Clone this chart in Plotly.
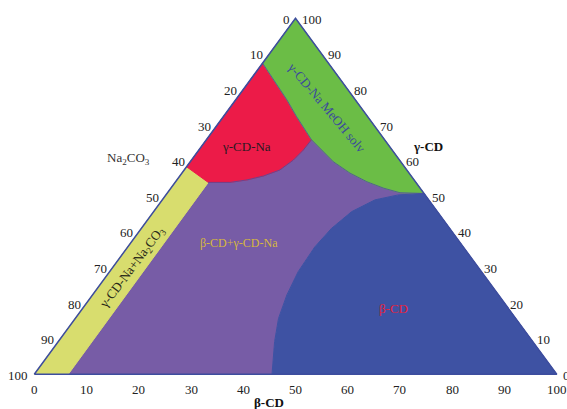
import plotly.graph_objects as go

# ---------------- data (compositions in %, Na2CO3 = 100 - beta - gamma) ----------------
tick_values = [0, 10, 20, 30, 40, 50, 60, 70, 80, 90, 100]

# gamma-CD-Na + Na2CO3 region
yellow_beta = [0, 6.5, 6.35, 0]
yellow_gamma = [0, 0, 53.9, 58.3]

# left edge segment of gamma-CD-Na region
red_edge_beta = [0, 0]
red_edge_gamma = [58.3, 87.4]
# boundary gamma-CD-Na / MeOH solvate
red_green_beta = [0, 9.8, 14.0, 20.1]
red_green_gamma = [87.4, 77.1, 72.4, 65.9]
# boundary gamma-CD-Na / beta-CD+gamma-CD-Na (from junction to yellow corner)
red_purple_beta = [20.1, 20.0, 19.5, 18.3, 16.0, 13.4, 10.5, 7.35, 6.35]
red_purple_gamma = [65.9, 63.0, 60.2, 57.4, 55.7, 54.6, 53.9, 53.8, 53.9]

# boundary MeOH solvate / beta-CD+gamma-CD-Na (junction to right edge)
green_purple_beta = [20.1, 27.4, 32.2, 36.6, 40.7, 44.5, 49.2]
green_purple_gamma = [65.9, 59.7, 56.5, 54.1, 52.3, 51.0, 50.8]

# boundary beta-CD / beta-CD+gamma-CD-Na (right edge to bottom)
blue_beta = [49.2, 44.5, 40.7, 37.9, 36.4, 35.8, 36.1, 37.2, 38.9, 41.4, 45.5]
blue_gamma = [50.8, 50.4, 49.0, 45.7, 41.0, 35.8, 28.8, 22.3, 15.7, 9.2, 0]

# vertices of the composition triangle (beta, gamma)
tri_beta = [0, 100, 0, 0]
tri_gamma = [0, 0, 100, 0]

FONT = "Liberation Serif"


def xy(beta, gamma):
    """ternary (beta, gamma) -> cartesian plotting coordinates"""
    xs = [b + g / 2 for b, g in zip(beta, gamma)]
    ys = list(gamma)
    return xs, ys


fig = go.Figure()


def region(beta, gamma, color):
    x, y = xy(beta, gamma)
    fig.add_trace(go.Scatter(x=x + [x[0]], y=y + [y[0]], mode="lines", fill="toself",
                             fillcolor=color, line=dict(color=color, width=1),
                             hoverinfo="skip", showlegend=False))


def boundary(beta, gamma, color="#4b4e9e", width=0.8):
    x, y = xy(beta, gamma)
    fig.add_trace(go.Scatter(x=x, y=y, mode="lines", line=dict(color=color, width=width),
                             hoverinfo="skip", showlegend=False))


# purple region: assembled from the neighbouring boundaries
purple_beta = ([yellow_beta[1], yellow_beta[2]] + red_purple_beta[::-1][1:]
               + green_purple_beta[1:] + blue_beta[1:])
purple_gamma = ([yellow_gamma[1], yellow_gamma[2]] + red_purple_gamma[::-1][1:]
                + green_purple_gamma[1:] + blue_gamma[1:])
region(purple_beta, purple_gamma, "#775ca6")

region(yellow_beta, yellow_gamma, "#d8dd6e")

red_beta = red_edge_beta + red_green_beta[1:] + red_purple_beta[1:]
red_gamma = red_edge_gamma + red_green_gamma[1:] + red_purple_gamma[1:]
region(red_beta, red_gamma, "#ec1b48")

green_beta = [0] + red_green_beta + green_purple_beta[1:]
green_gamma = [100] + red_green_gamma + green_purple_gamma[1:]
region(green_beta, green_gamma, "#6bbd46")

blue_b = blue_beta + [100]
blue_g = blue_gamma + [0]
region(blue_b, blue_g, "#3e52a3")

# thin boundary lines around the gamma-CD-Na and solvate fields
boundary(red_green_beta, red_green_gamma)
boundary(red_purple_beta, red_purple_gamma)
boundary(green_purple_beta, green_purple_gamma)

# triangle outline
tx, ty = xy(tri_beta, tri_gamma)
fig.add_trace(go.Scatter(x=tx, y=ty, mode="lines", line=dict(color="#3d4d9e", width=1.5),
                         hoverinfo="skip", showlegend=False))

ann = []
tick_font = dict(family=FONT, size=13, color="#222222")
for v in tick_values:
    # left edge : Na2CO3
    x, y = xy([0], [100 - v])
    ann.append(dict(x=x[0], y=y[0], text=str(v), showarrow=False, xanchor="right",
                    yanchor="middle", xshift=-4, yshift=-1, font=tick_font))
    # bottom edge : beta-CD
    x, y = xy([v], [0])
    ann.append(dict(x=x[0], y=y[0], text=str(v), showarrow=False, xanchor="center",
                    yanchor="top", yshift=-6, font=tick_font))
    # right edge : gamma-CD
    x, y = xy([100 - v], [v])
    ann.append(dict(x=x[0], y=y[0], text=str(v), showarrow=False, xanchor="left",
                    yanchor="middle", xshift=4, yshift=-1, font=tick_font))


def label(beta, gamma, text, color, size=13, angle=0, bold=False):
    x, y = xy([beta], [gamma])
    t = f"<b>{text}</b>" if bold else text
    ann.append(dict(x=x[0], y=y[0], text=t, showarrow=False, textangle=angle,
                    font=dict(family=FONT, size=size, color=color)))


label(18.5, 74.9, "γ-CD-Na MeOH solv", "#3b4a9c", 13, 50)
label(8.6, 64.1, "γ-CD-Na", "#2a1a22", 13)
label(20.7, 36.9, "β-CD+γ-CD-Na", "#d6b83c", 12)
label(59.5, 18.5, "β-CD", "#e8223c", 13)
label(3.8, 30.0, "γ-CD-Na+Na<sub>2</sub>CO<sub>3</sub>", "#2a2a1a", 13, -53)

# axis titles
label(-12.3, 60.6, "Na<sub>2</sub>CO<sub>3</sub>", "#333333", 13)
label(43.5, 63.9, "γ-CD", "#111111", 13, bold=True)
label(48.9, -8.0, "β-CD", "#111111", 13, bold=True)

fig.update_layout(
    width=567, height=409,
    margin=dict(l=0, r=0, t=0, b=0),
    paper_bgcolor="white", plot_bgcolor="white",
    xaxis=dict(range=[-6.566, 101.97], visible=False, fixedrange=True),
    yaxis=dict(range=[-9.747, 105.14], visible=False, fixedrange=True),
    annotations=ann,
    showlegend=False,
)

fig.write_html("out.html", config={"displayModeBar": False, "staticPlot": True},
               post_script="document.body.style.margin='0';document.body.style.overflow='hidden';")
